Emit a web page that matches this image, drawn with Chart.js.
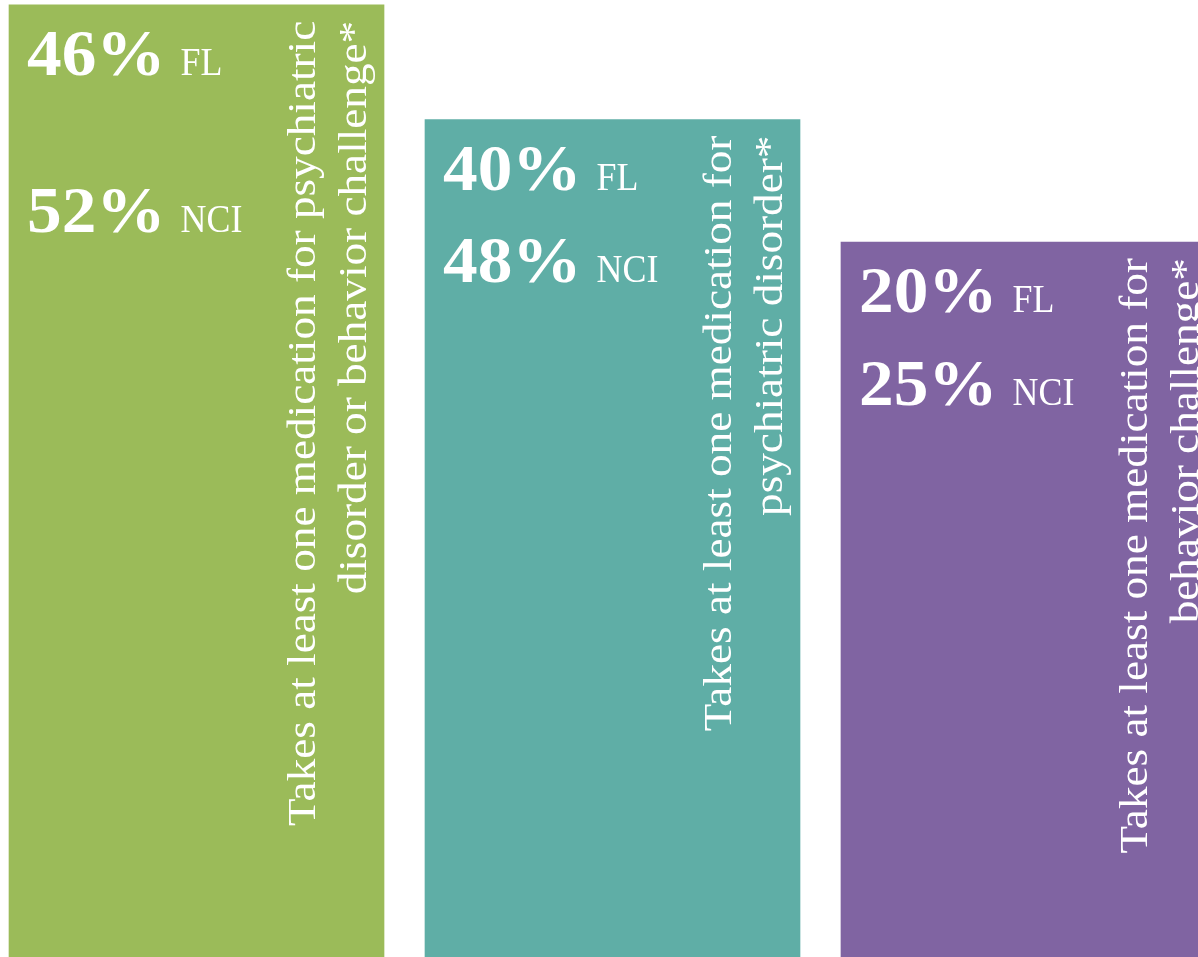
<!DOCTYPE html>
<html>
<head>
<meta charset="utf-8">
<script src="https://cdn.jsdelivr.net/npm/chart.js@4"></script>
<style>
  html, body { margin: 0; padding: 0; background: #ffffff; }
  canvas { display: block; }
</style>
</head>
<body>
<canvas id="medChart" width="1198" height="957"></canvas>
<script>
// Data
const categories = ['Psychiatric disorder or behavior challenge', 'Psychiatric disorder', 'Behavior challenge'];
const barHeights = [99.5, 87.5, 74.7];   // bar lengths as drawn (share of full height)
const flValues = [46, 40, 20];
const nciValues = [52, 48, 25];
const captionLines = [
  ['Takes at least one medication for psychiatric', 'disorder or behavior challenge*'],
  ['Takes at least one medication for', 'psychiatric disorder*'],
  ['Takes at least one medication for', 'behavior challenge*']
];
const barColors = ['#9BBB59', '#5FAEA6', '#8064A2'];

// Draw the text inside each bar
const barText = {
  id: 'barText',
  afterDatasetsDraw(chart) {
    const ctx = chart.ctx;
    const meta = chart.getDatasetMeta(0);
    const nciGap = [227, 162, 163];
    meta.data.forEach((bar, i) => {
      const left = bar.x - bar.width / 2;
      const top = bar.y;
      ctx.save();
      ctx.fillStyle = '#ffffff';
      ctx.textBaseline = 'alphabetic';
      ctx.textAlign = 'left';

      // percentages
      const rows = [[flValues[i] + '%', 'FL', 70], [nciValues[i] + '%', 'NCI', nciGap[i]]];
      rows.forEach(r => {
        ctx.save();
        ctx.translate(left + 18, top + r[2]);
        ctx.scale(1.05, 1);
        ctx.font = 'bold 66px "Liberation Serif"';
        ctx.fillText(r[0], 0, 0);
        ctx.restore();
        ctx.font = 'bold 66px "Liberation Serif"';
        const pw = ctx.measureText(r[0]).width * 1.05;
        ctx.font = '39px "Liberation Serif"';
        ctx.save();
        ctx.translate(left + 18 + pw + 15, top + r[2]);
        ctx.scale(0.92, 1);
        ctx.fillText(r[1], 0, 0);
        ctx.restore();
      });

      // rotated caption
      ctx.translate(left + 306, top + 16);
      ctx.rotate(-Math.PI / 2);
      ctx.scale(1.13, 1);
      ctx.textAlign = 'right';
      ctx.font = '40px "Liberation Serif"';
      captionLines[i].forEach((line, k) => {
        ctx.fillText(line, 0, k * 51);
      });
      ctx.restore();
    });
  }
};

new Chart(document.getElementById('medChart'), {
  type: 'bar',
  data: {
    labels: categories,
    datasets: [{
      data: barHeights.map((v, i) => ({ x: i, y: v })),
      backgroundColor: barColors,
      borderWidth: 0,
      barThickness: 375
    }]
  },
  options: {
    responsive: false,
    animation: false,
    devicePixelRatio: 1,
    layout: { padding: 0 },
    plugins: {
      legend: { display: false },
      tooltip: { enabled: false }
    },
    scales: {
      x: { type: 'linear', display: false, min: -0.4724, max: 2.4075, offset: false },
      y: { display: false, min: 0, max: 100 }
    }
  },
  plugins: [barText]
});
</script>
</body>
</html>
